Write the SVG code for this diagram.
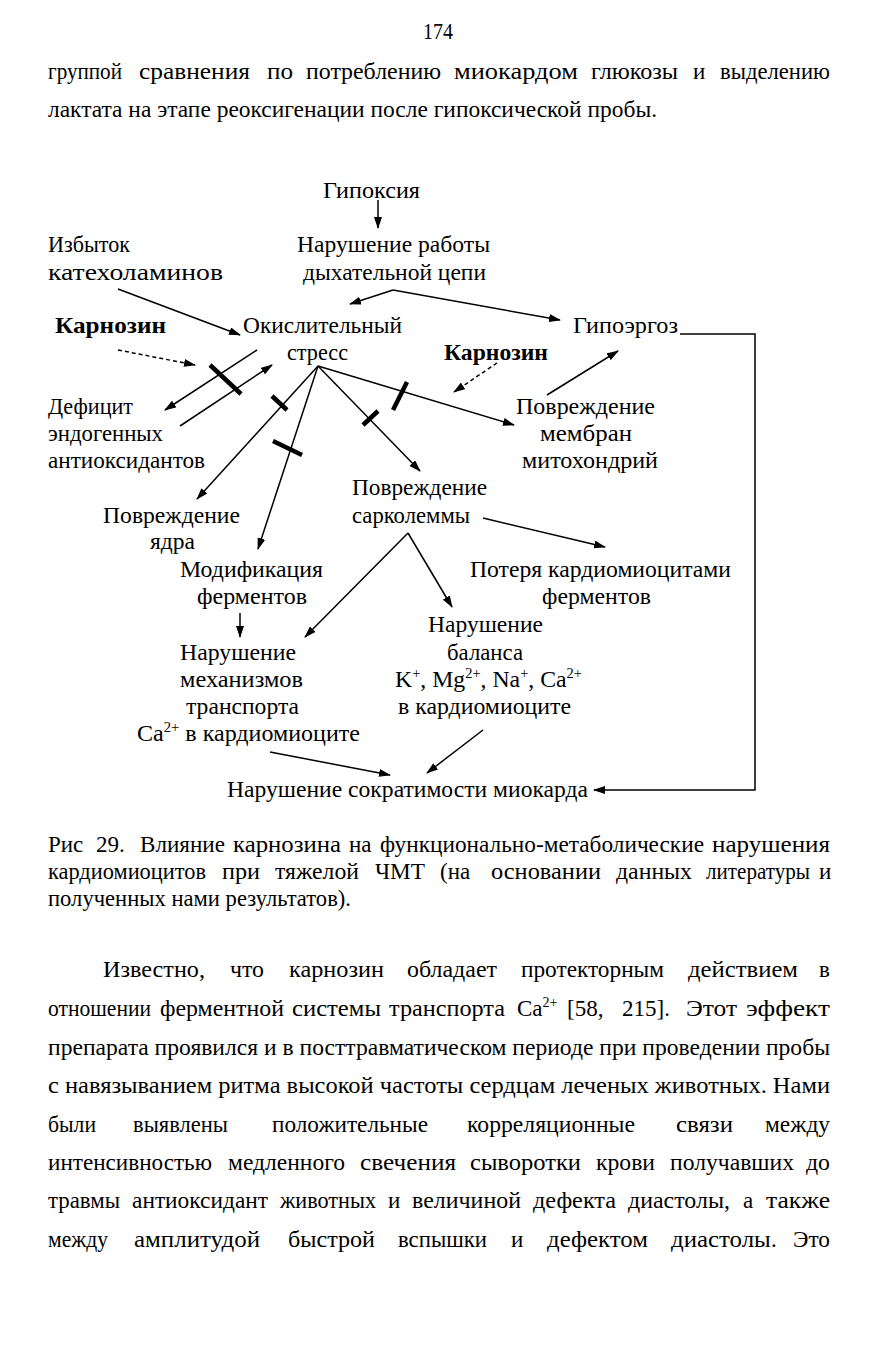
<svg xmlns="http://www.w3.org/2000/svg" width="881" height="1350" viewBox="0 0 881 1350">
<defs>
<style>
text{font-family:"Liberation Serif","Times New Roman",serif;font-size:23px;fill:#000}
.b{font-weight:bold}
.sup{font-size:14px}
.ln{stroke:#000;stroke-width:1.5;fill:none}
.ar{marker-end:url(#ah)}
.da{stroke-dasharray:4,3}
.bar{stroke:#000;stroke-width:4.5;fill:none}
</style>
<marker id="ah" viewBox="0 0 12 8" refX="11" refY="4" markerWidth="12" markerHeight="8" markerUnits="userSpaceOnUse" orient="auto"><path d="M0,0 L12,4 L0,8 z" fill="#000"/></marker>
</defs>
<rect width="881" height="1350" fill="#fff"/>

<g id="page-text">
<text x="423" y="39" textLength="30" lengthAdjust="spacingAndGlyphs">174</text>
<text x="48" y="79" textLength="74" lengthAdjust="spacingAndGlyphs">группой</text>
<text x="139" y="79" textLength="111" lengthAdjust="spacingAndGlyphs">сравнения</text>
<text x="267" y="79" textLength="26" lengthAdjust="spacingAndGlyphs">по</text>
<text x="306" y="79" textLength="135" lengthAdjust="spacingAndGlyphs">потреблению</text>
<text x="454" y="79" textLength="124" lengthAdjust="spacingAndGlyphs">миокардом</text>
<text x="591" y="79" textLength="87" lengthAdjust="spacingAndGlyphs">глюкозы</text>
<text x="693" y="79">и</text>
<text x="720" y="79" textLength="110" lengthAdjust="spacingAndGlyphs">выделению</text>
<text x="48" y="117" textLength="609" lengthAdjust="spacingAndGlyphs">лактата на этапе реоксигенации после гипоксической пробы.</text>
</g>

<g id="caption">
<text x="48" y="852">Рис</text>
<text x="96" y="852">29.</text>
<text x="140" y="852" textLength="85" lengthAdjust="spacingAndGlyphs">Влияние</text>
<text x="233" y="852" textLength="108" lengthAdjust="spacingAndGlyphs">карнозина</text>
<text x="349" y="852">на</text>
<text x="380" y="852" textLength="324" lengthAdjust="spacingAndGlyphs">функционально-метаболические</text>
<text x="712" y="852" textLength="118" lengthAdjust="spacingAndGlyphs">нарушения</text>
<text x="48" y="879" textLength="158" lengthAdjust="spacingAndGlyphs">кардиомиоцитов</text>
<text x="222" y="879" textLength="38" lengthAdjust="spacingAndGlyphs">при</text>
<text x="275" y="879" textLength="84" lengthAdjust="spacingAndGlyphs">тяжелой</text>
<text x="375" y="879" textLength="50" lengthAdjust="spacingAndGlyphs">ЧМТ</text>
<text x="440" y="879">(на</text>
<text x="491" y="879" textLength="110" lengthAdjust="spacingAndGlyphs">основании</text>
<text x="616" y="879" textLength="76" lengthAdjust="spacingAndGlyphs">данных</text>
<text x="706" y="879" textLength="104" lengthAdjust="spacingAndGlyphs">литературы</text>
<text x="819" y="879">и</text>
<text x="48" y="906" textLength="303" lengthAdjust="spacingAndGlyphs">полученных нами результатов).</text>
</g>

<g id="body-text">
<text x="103" y="977" textLength="102" lengthAdjust="spacingAndGlyphs">Известно,</text>
<text x="230" y="977" textLength="34" lengthAdjust="spacingAndGlyphs">что</text>
<text x="289" y="977" textLength="95" lengthAdjust="spacingAndGlyphs">карнозин</text>
<text x="407" y="977" textLength="90" lengthAdjust="spacingAndGlyphs">обладает</text>
<text x="521" y="977" textLength="143" lengthAdjust="spacingAndGlyphs">протекторным</text>
<text x="688" y="977" textLength="110" lengthAdjust="spacingAndGlyphs">действием</text>
<text x="819" y="977">в</text>

<text x="48" y="1016" textLength="103" lengthAdjust="spacingAndGlyphs">отношении</text>
<text x="160" y="1016" textLength="124" lengthAdjust="spacingAndGlyphs">ферментной</text>
<text x="292" y="1016" textLength="89" lengthAdjust="spacingAndGlyphs">системы</text>
<text x="389" y="1016" textLength="116" lengthAdjust="spacingAndGlyphs">транспорта</text>
<text x="517" y="1016">Ca<tspan class="sup" dy="-9">2+</tspan></text>
<text x="567" y="1016">[58,</text>
<text x="622" y="1016">215].</text>
<text x="686" y="1016" textLength="51" lengthAdjust="spacingAndGlyphs">Этот</text>
<text x="746" y="1016" textLength="84" lengthAdjust="spacingAndGlyphs">эффект</text>

<text x="48" y="1055" textLength="782" lengthAdjust="spacingAndGlyphs">препарата проявился и в посттравматическом периоде при проведении пробы</text>
<text x="48" y="1093" textLength="782" lengthAdjust="spacingAndGlyphs">с навязыванием ритма высокой частоты сердцам леченых животных. Нами</text>

<text x="48" y="1132" textLength="48" lengthAdjust="spacingAndGlyphs">были</text>
<text x="133" y="1132" textLength="95" lengthAdjust="spacingAndGlyphs">выявлены</text>
<text x="272" y="1132" textLength="156" lengthAdjust="spacingAndGlyphs">положительные</text>
<text x="467" y="1132" textLength="168" lengthAdjust="spacingAndGlyphs">корреляционные</text>
<text x="676" y="1132" textLength="57" lengthAdjust="spacingAndGlyphs">связи</text>
<text x="765" y="1132" textLength="65" lengthAdjust="spacingAndGlyphs">между</text>

<text x="48" y="1170" textLength="164" lengthAdjust="spacingAndGlyphs">интенсивностью</text>
<text x="228" y="1170" textLength="117" lengthAdjust="spacingAndGlyphs">медленного</text>
<text x="360" y="1170" textLength="96" lengthAdjust="spacingAndGlyphs">свечения</text>
<text x="470" y="1170" textLength="111" lengthAdjust="spacingAndGlyphs">сыворотки</text>
<text x="596" y="1170" textLength="59" lengthAdjust="spacingAndGlyphs">крови</text>
<text x="670" y="1170" textLength="124" lengthAdjust="spacingAndGlyphs">получавших</text>
<text x="806" y="1170" textLength="24" lengthAdjust="spacingAndGlyphs">до</text>

<text x="48" y="1208" textLength="72" lengthAdjust="spacingAndGlyphs">травмы</text>
<text x="132" y="1208" textLength="136" lengthAdjust="spacingAndGlyphs">антиоксидант</text>
<text x="280" y="1208" textLength="96" lengthAdjust="spacingAndGlyphs">животных</text>
<text x="388" y="1208">и</text>
<text x="412" y="1208" textLength="109" lengthAdjust="spacingAndGlyphs">величиной</text>
<text x="533" y="1208" textLength="83" lengthAdjust="spacingAndGlyphs">дефекта</text>
<text x="628" y="1208" textLength="102" lengthAdjust="spacingAndGlyphs">диастолы,</text>
<text x="743" y="1208">а</text>
<text x="766" y="1208" textLength="64" lengthAdjust="spacingAndGlyphs">также</text>

<text x="48" y="1247" textLength="60" lengthAdjust="spacingAndGlyphs">между</text>
<text x="134" y="1247" textLength="126" lengthAdjust="spacingAndGlyphs">амплитудой</text>
<text x="288" y="1247" textLength="87" lengthAdjust="spacingAndGlyphs">быстрой</text>
<text x="398" y="1247" textLength="89" lengthAdjust="spacingAndGlyphs">вспышки</text>
<text x="511" y="1247">и</text>
<text x="547" y="1247" textLength="101" lengthAdjust="spacingAndGlyphs">дефектом</text>
<text x="671" y="1247" textLength="106" lengthAdjust="spacingAndGlyphs">диастолы.</text>
<text x="793" y="1247" textLength="37" lengthAdjust="spacingAndGlyphs">Это</text>
</g>

<g id="n-hypoxia"><text x="323" y="198" textLength="97" lengthAdjust="spacingAndGlyphs">Гипоксия</text></g>
<g id="n-resp"><text x="297" y="252" textLength="193" lengthAdjust="spacingAndGlyphs">Нарушение работы</text><text x="303" y="280" textLength="183" lengthAdjust="spacingAndGlyphs">дыхательной цепи</text></g>
<g id="n-catechol"><text x="48" y="252" textLength="82" lengthAdjust="spacingAndGlyphs">Избыток</text><text x="48" y="280" textLength="175" lengthAdjust="spacingAndGlyphs">катехоламинов</text></g>
<g id="n-carnosine1"><text class="b" x="55" y="333" textLength="111" lengthAdjust="spacingAndGlyphs">Карнозин</text></g>
<g id="n-oxstress"><text x="243" y="333" textLength="159" lengthAdjust="spacingAndGlyphs">Окислительный</text><text x="287" y="360" textLength="61" lengthAdjust="spacingAndGlyphs">стресс</text></g>
<g id="n-carnosine2"><text class="b" x="444" y="360" textLength="104" lengthAdjust="spacingAndGlyphs">Карнозин</text></g>
<g id="n-hypoergosis"><text x="573" y="333" textLength="105" lengthAdjust="spacingAndGlyphs">Гипоэргоз</text></g>
<g id="n-deficit"><text x="48" y="414" textLength="85" lengthAdjust="spacingAndGlyphs">Дефицит</text><text x="48" y="441" textLength="115" lengthAdjust="spacingAndGlyphs">эндогенных</text><text x="48" y="468" textLength="157" lengthAdjust="spacingAndGlyphs">антиоксидантов</text></g>
<g id="n-mito"><text x="516" y="414" textLength="139" lengthAdjust="spacingAndGlyphs">Повреждение</text><text x="540" y="441" textLength="92" lengthAdjust="spacingAndGlyphs">мембран</text><text x="522" y="468" textLength="136" lengthAdjust="spacingAndGlyphs">митохондрий</text></g>
<g id="n-sarcolemma"><text x="352" y="495" textLength="135" lengthAdjust="spacingAndGlyphs">Повреждение</text><text x="352" y="523" textLength="118" lengthAdjust="spacingAndGlyphs">сарколеммы</text></g>
<g id="n-nucleus"><text x="103" y="523" textLength="137" lengthAdjust="spacingAndGlyphs">Повреждение</text><text x="150" y="549" textLength="45" lengthAdjust="spacingAndGlyphs">ядра</text></g>
<g id="n-enzmod"><text x="180" y="577" textLength="143" lengthAdjust="spacingAndGlyphs">Модификация</text><text x="197" y="604" textLength="110" lengthAdjust="spacingAndGlyphs">ферментов</text></g>
<g id="n-enzloss"><text x="470" y="577" textLength="261" lengthAdjust="spacingAndGlyphs">Потеря кардиомиоцитами</text><text x="542" y="604" textLength="109" lengthAdjust="spacingAndGlyphs">ферментов</text></g>
<g id="n-balance"><text x="428" y="632" textLength="115" lengthAdjust="spacingAndGlyphs">Нарушение</text><text x="447" y="660" textLength="76" lengthAdjust="spacingAndGlyphs">баланса</text><text x="395" y="687" textLength="187" lengthAdjust="spacingAndGlyphs">K<tspan class="sup" dy="-9">+</tspan><tspan dy="9">, Mg</tspan><tspan class="sup" dy="-9">2+</tspan><tspan dy="9">, Na</tspan><tspan class="sup" dy="-9">+</tspan><tspan dy="9">, Ca</tspan><tspan class="sup" dy="-9">2+</tspan></text><text x="398" y="714" textLength="173" lengthAdjust="spacingAndGlyphs">в кардиомиоците</text></g>
<g id="n-catransport"><text x="180" y="660" textLength="116" lengthAdjust="spacingAndGlyphs">Нарушение</text><text x="180" y="687" textLength="123" lengthAdjust="spacingAndGlyphs">механизмов</text><text x="186" y="714" textLength="113" lengthAdjust="spacingAndGlyphs">транспорта</text><text x="137" y="741" textLength="223" lengthAdjust="spacingAndGlyphs">Ca<tspan class="sup" dy="-9">2+</tspan><tspan dy="9"> в кардиомиоците</tspan></text></g>
<g id="n-contractility"><text x="227" y="797" textLength="361" lengthAdjust="spacingAndGlyphs">Нарушение сократимости миокарда</text></g>

<g id="connectors">
<line class="ln ar" x1="378" y1="200" x2="378" y2="228"/>
<line class="ln ar" x1="393" y1="290" x2="350" y2="304"/>
<line class="ln ar" x1="393" y1="290" x2="560" y2="320"/>
<line class="ln ar" x1="118" y1="289" x2="240" y2="335"/>
<line class="ln ar da" x1="118" y1="350" x2="195" y2="365"/>
<line class="ln ar" x1="257" y1="350" x2="165" y2="410"/>
<line class="ln ar" x1="180" y1="426" x2="272" y2="365"/>
<line class="ln ar" x1="318" y1="366" x2="197" y2="499"/>
<line class="ln ar" x1="318" y1="366" x2="258" y2="549"/>
<line class="ln ar" x1="318" y1="366" x2="420" y2="471"/>
<line class="ln ar" x1="318" y1="366" x2="514" y2="425"/>
<line class="ln ar da" x1="497" y1="363" x2="454" y2="392"/>
<line class="ln ar" x1="547" y1="395" x2="618" y2="351"/>
<polyline class="ln ar" points="680,334 755,334 755,790 594,790"/>
<line class="ln ar" x1="483" y1="518" x2="605" y2="547"/>
<line class="ln ar" x1="240" y1="613" x2="240" y2="637"/>
<line class="ln ar" x1="408" y1="533" x2="305" y2="637"/>
<line class="ln ar" x1="408" y1="533" x2="452" y2="607"/>
<line class="ln ar" x1="270" y1="752" x2="390" y2="775"/>
<line class="ln ar" x1="483" y1="730" x2="427" y2="773"/>
<line class="bar" x1="210" y1="365" x2="241" y2="394"/>
<line class="bar" x1="272" y1="396" x2="287" y2="410"/>
<line class="bar" x1="273" y1="441" x2="302" y2="455"/>
<line class="bar" x1="363" y1="425" x2="378" y2="411"/>
<line class="bar" x1="393" y1="410" x2="407" y2="382"/>
</g>
</svg>
